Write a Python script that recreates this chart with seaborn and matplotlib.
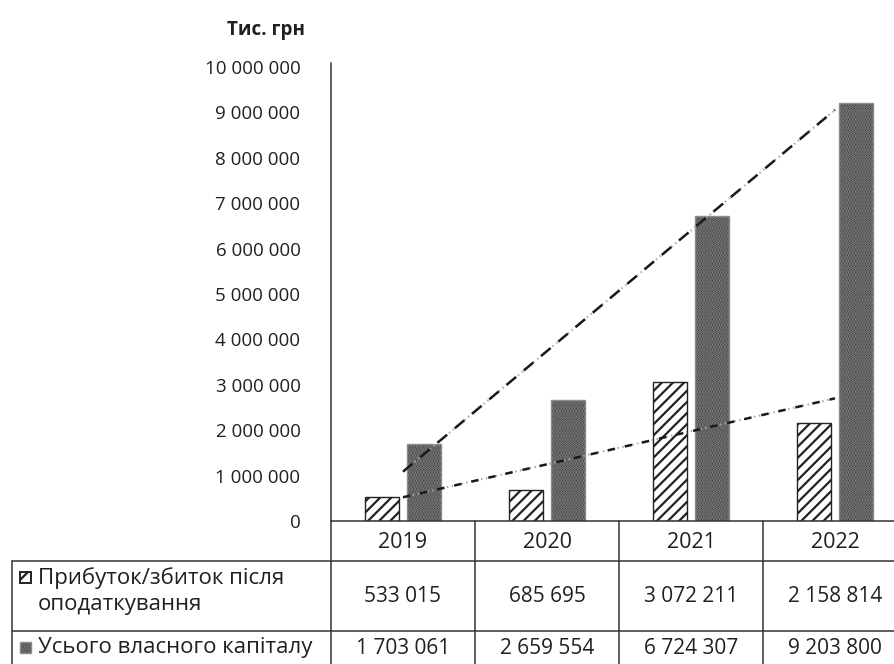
import numpy as np
import pandas as pd
import seaborn as sns
import matplotlib.pyplot as plt
from matplotlib.patches import Rectangle
from matplotlib.lines import Line2D
from matplotlib.transforms import blended_transform_factory

# data
years = ["2019", "2020", "2021", "2022"]
profit = [533015, 685695, 3072211, 2158814]
capital = [1703061, 2659554, 6724307, 9203800]
series_labels = ["Прибуток/збиток після\nоподаткування", "Усього власного капіталу"]
y_ticks = list(range(0, 10_000_001, 1_000_000))


def fmt(v):
    return f"{v:,}".replace(",", " ")


sns.set_style("white")
plt.rcParams["font.family"] = ["Open Sans", "DejaVu Sans"]
plt.rcParams["hatch.linewidth"] = 1.6

df = pd.DataFrame({
    "Рік": years * 2,
    "Значення": profit + capital,
    "Показник": ["profit"] * len(years) + ["capital"] * len(years),
})

W, H = 894, 664
fig = plt.figure(figsize=(W / 100, H / 100), dpi=100)
ax = fig.add_axes([331 / W, (H - 521) / H, 576 / W, 458 / H])


def fy(px):
    return 1 - px / H


sns.barplot(data=df, x="Рік", y="Значення", hue="Показник", width=0.58, gap=0.2,
            palette=["white", "#333333"], saturation=1, legend=False, ax=ax)

for bar in ax.containers[0]:
    bar.set_hatch("///")
    bar.set_edgecolor("#222222")
    bar.set_linewidth(1.0)
for bar in ax.containers[1]:
    bar.set_facecolor("#333333")
    bar.set_edgecolor("#8c8c8c")
    bar.set_hatch("......")
    bar.set_linewidth(1.0)

# linear trend lines
x = np.arange(len(years))
for vals, dash in [(capital, (0, (5, 4))), (profit, (0, (3, 4)))]:
    sns.regplot(x=x, y=np.array(vals, dtype=float), scatter=False, ci=None, truncate=True, ax=ax,
                line_kws=dict(color="#a8a8a8", lw=1.5, linestyle=(0, (0.7, 1.7))))
    xs, ys = ax.lines[-1].get_data()
    ax.plot(xs, ys, color="#1a1a1a", lw=1.8, linestyle=dash)

ax.set_xlim(-0.5, len(years) - 0.5)
ax.set_ylim(0, 10.09e6)
ax.set_yticks(y_ticks)
ax.set_yticklabels([fmt(t) for t in y_ticks])
ax.set_xticks([])
ax.set_xlabel("")
ax.set_ylabel("")
ax.tick_params(axis="y", length=0, pad=22, labelsize=13.5, labelcolor="#231f20")
for s in ["top", "right"]:
    ax.spines[s].set_visible(False)
for s in ["left", "bottom"]:
    ax.spines[s].set_color("#333333")
    ax.spines[s].set_linewidth(1.1)

fig.text(305 / W, fy(30), "Тис. грн", ha="right", va="center", fontsize=13.5,
         fontweight="bold", color="#231f20")

# data table under the chart
blend = blended_transform_factory(ax.transData, fig.transFigure)
line_kw = dict(color="#333333", lw=1.1, clip_on=False)
for b in np.arange(len(years) + 1) - 0.5:
    ax.plot([b, b], [fy(521), 0], transform=blend, **line_kw)
for yy in [561, 631]:
    fig.add_artist(Line2D([12 / W, 1], [fy(yy), fy(yy)], color="#333333", lw=1.1))
fig.add_artist(Line2D([12 / W, 12 / W], [fy(561), 0], color="#333333", lw=1.1))

for i, yr in enumerate(years):
    ax.text(i, fy(542), yr, transform=blend, ha="center", va="center", fontsize=15.5, color="#231f20")
    ax.text(i, fy(596), fmt(profit[i]), transform=blend, ha="center", va="center", fontsize=15, color="#231f20")
    ax.text(i, fy(648), fmt(capital[i]), transform=blend, ha="center", va="center", fontsize=15, color="#231f20")

fig.text(38 / W, fy(591), series_labels[0], ha="left", va="center", fontsize=16,
         linespacing=1.3, color="#231f20")
fig.text(38 / W, fy(648), series_labels[1], ha="left", va="center", fontsize=16, color="#231f20")

fig.add_artist(Rectangle((20 / W, fy(583)), 11 / W, 11 / H, transform=fig.transFigure,
                         facecolor="white", edgecolor="#222222", hatch="/", lw=1.4))
fig.add_artist(Rectangle((20 / W, fy(653)), 11 / W, 11 / H, transform=fig.transFigure,
                         facecolor="#333333", edgecolor="#8c8c8c", hatch="......", lw=1.0))

fig.savefig("out.png", dpi=100)
